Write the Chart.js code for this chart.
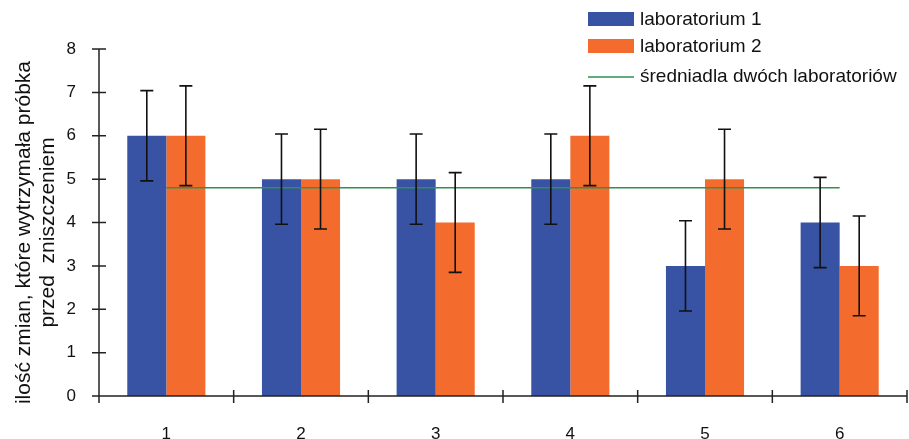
<!DOCTYPE html>
<html>
<head>
<meta charset="utf-8">
<script src="https://cdn.jsdelivr.net/npm/chart.js@4"></script>
<style>
html,body{margin:0;padding:0;background:#fff;}
#wrap{width:909px;height:439px;position:relative;}
</style>
</head>
<body>
<div id="wrap"><canvas id="c" width="909" height="439"></canvas></div>
<script>
const categories = ['1','2','3','4','5','6'];
const lab1 = [6,5,5,5,3,4];
const lab2 = [6,5,4,6,5,3];
const lab1Err = [1.04,1.04,1.04,1.04,1.04,1.04];
const lab2Err = [1.15,1.15,1.15,1.15,1.15,1.15];
const meanLine = [4.8,4.8,4.8,4.8,4.8,4.8];
const seriesNames = ['laboratorium 1','laboratorium 2','średniadla dwóch laboratoriów'];
const yTitle = ['ilość zmian, które wytrzymała próbka','przed  zniszczeniem'];
const yTicks = [0,1,2,3,4,5,6,7,8];

const FONT = '"Liberation Sans", Arial, sans-serif';
const BLUE = '#3953A4', ORANGE = '#F36C2D', GREEN = '#2E9150';

const errPlugin = {
  id:'errbars',
  afterDatasetsDraw(chart){
    const ctx = chart.ctx, y = chart.scales.y;
    const errs = [lab1Err, lab2Err];
    [0,1].forEach(di=>{
      const meta = chart.getDatasetMeta(di);
      const vals = chart.data.datasets[di].data;
      meta.data.forEach((bar,i)=>{
        const x = bar.x;
        const top = y.getPixelForValue(vals[i]+errs[di][i]);
        const bot = y.getPixelForValue(vals[i]-errs[di][i]);
        ctx.save();
        ctx.strokeStyle='#111';
        ctx.lineWidth=1.6;
        ctx.beginPath();
        ctx.moveTo(x,top);ctx.lineTo(x,bot);
        ctx.moveTo(x-6.5,top);ctx.lineTo(x+6.5,top);
        ctx.moveTo(x-6.5,bot);ctx.lineTo(x+6.5,bot);
        ctx.stroke();
        ctx.restore();
      });
    });
  }
};

const axesPlugin = {
  id:'axesx',
  afterDraw(chart){
    const ctx = chart.ctx, a = chart.chartArea, x = chart.scales.x, y = chart.scales.y;
    ctx.save();
    ctx.strokeStyle='#222';
    ctx.lineWidth=1.5;
    ctx.beginPath();
    ctx.moveTo(a.left,a.top);ctx.lineTo(a.left,a.bottom);
    ctx.lineTo(a.right,a.bottom);
    yTicks.forEach(v=>{
      const py = y.getPixelForValue(v);
      ctx.moveTo(a.left-7,py);ctx.lineTo(a.left+7,py);
    });
    const step = x.getPixelForValue(1)-x.getPixelForValue(0);
    for(let i=0;i<=categories.length;i++){
      const px = i<categories.length ? x.getPixelForValue(i) - step/2 : a.right;
      ctx.moveTo(px,a.bottom-6);ctx.lineTo(px,a.bottom+7);
    }
    ctx.stroke();
    ctx.fillStyle='#111';
    ctx.font='21px '+FONT;
    ctx.textAlign='center';
    ctx.textBaseline='middle';
    ctx.translate(0,(a.top+a.bottom)/2+10);
    ctx.rotate(-Math.PI/2);
    ctx.fillText(yTitle[0],0,24);
    ctx.fillText(yTitle[1],0,48);
    ctx.restore();
    ctx.save();
    ctx.font='19px '+FONT;
    ctx.textBaseline='middle';
    const lx=588, tx=640, rows=[19,46,76];
    ctx.fillStyle=BLUE; ctx.fillRect(lx,rows[0]-7,46,14);
    ctx.fillStyle=ORANGE; ctx.fillRect(lx,rows[1]-7,46,14);
    ctx.strokeStyle=GREEN; ctx.lineWidth=1.5;
    ctx.beginPath(); ctx.moveTo(lx,rows[2]+1); ctx.lineTo(lx+46,rows[2]+1); ctx.stroke();
    ctx.fillStyle='#111';
    seriesNames.forEach((n,i)=>ctx.fillText(n,tx,rows[i]+1));
    ctx.restore();
  }
};

new Chart(document.getElementById('c'),{
  type:'bar',
  data:{
    labels:categories,
    datasets:[
      {label:seriesNames[0],data:lab1,backgroundColor:BLUE,categoryPercentage:0.58,barPercentage:1.0,order:2},
      {label:seriesNames[1],data:lab2,backgroundColor:ORANGE,categoryPercentage:0.58,barPercentage:1.0,order:2},
      {type:'line',label:seriesNames[2],data:meanLine,borderColor:GREEN,borderWidth:1.6,pointRadius:0,fill:false,order:1}
    ]
  },
  options:{
    responsive:false,
    animation:false,
    layout:{padding:{left:0,right:2,top:49,bottom:0}},
    plugins:{legend:{display:false},tooltip:{enabled:false}},
    scales:{
      x:{
        offset:true,
        grid:{display:false,offset:true},
        border:{display:false},
        ticks:{font:{family:FONT,size:17},color:'#111',padding:20},
        afterFit(s){s.height=43;}
      },
      y:{
        min:0,max:8,
        grid:{display:false},
        border:{display:false},
        ticks:{stepSize:1,font:{family:FONT,size:17},color:'#111',padding:15},
        afterFit(s){s.width=99;}
      }
    }
  },
  plugins:[errPlugin,axesPlugin]
});
</script>
</body>
</html>
